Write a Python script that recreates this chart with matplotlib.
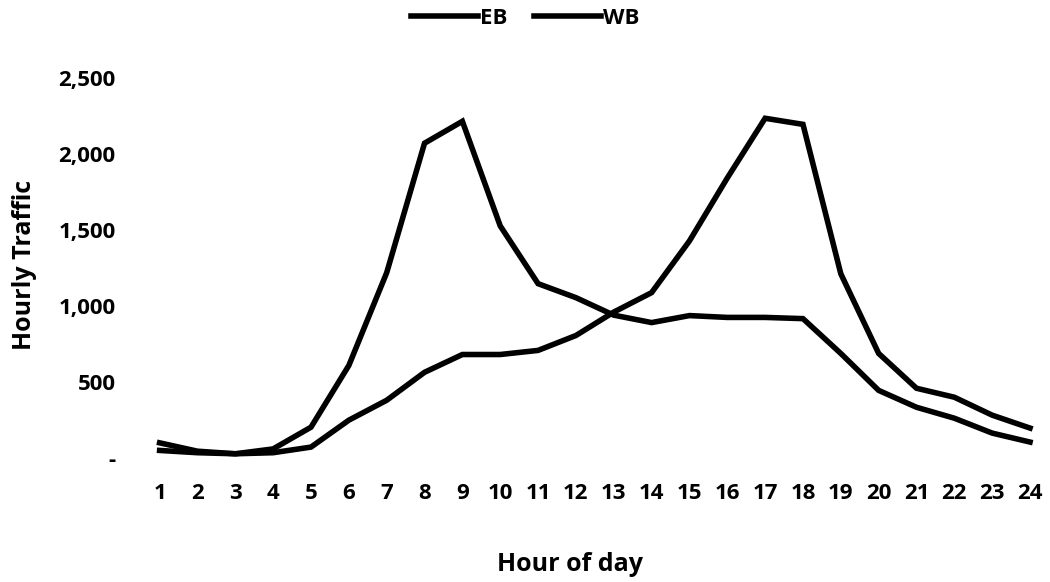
import matplotlib
matplotlib.use("Agg")
import matplotlib.pyplot as plt
from matplotlib.ticker import FuncFormatter

hours = list(range(1, 25))
eb = [50, 35, 28, 60, 203, 609, 1219, 2071, 2215, 1527, 1147, 1055, 940, 891, 937, 925, 925, 917, 688, 445, 334, 262, 164, 105]
wb = [100, 45, 28, 35, 72, 249, 380, 564, 681, 681, 708, 806, 960, 1088, 1428, 1842, 2235, 2195, 1212, 688, 459, 400, 282, 197]
y_ticks = [0, 500, 1000, 1500, 2000, 2500]

plt.rcParams['font.family'] = ['Open Sans', 'DejaVu Sans']
plt.rcParams['font.weight'] = 'bold'

fig = plt.figure(figsize=(10.5, 5.82), dpi=100)
ax = fig.add_axes([0.134, 0.213, 0.865, 0.653])

ax.plot(hours, eb, color='black', lw=4, label='EB', solid_joinstyle='miter')
ax.plot(hours, wb, color='black', lw=4, label='WB', solid_joinstyle='miter')

ax.set_xlim(0.5, 24.5)
ax.set_ylim(0, 2500)
ax.set_xticks(hours)
ax.set_xticklabels([str(h) for h in hours])
ax.set_yticks(y_ticks)
ax.yaxis.set_major_formatter(FuncFormatter(lambda v, p: '-' if v == 0 else f'{int(v):,}'))
for s in ax.spines.values():
    s.set_visible(False)
ax.tick_params(axis='both', length=0, labelsize=16)
ax.tick_params(axis='x', pad=18)
ax.tick_params(axis='y', pad=18)
for t in ax.get_xticklabels() + ax.get_yticklabels():
    t.set_fontweight('bold')

fig.text(0.543, 0.03, 'Hour of day', ha='center', va='center', fontsize=18, fontweight='bold')
fig.text(0.023, 0.545, 'Hourly Traffic', ha='center', va='center', rotation=90, fontsize=18, fontweight='bold')

fig.legend(loc='center', bbox_to_anchor=(0.5, 0.968), ncol=2, frameon=False,
           prop={'size': 16, 'weight': 'bold'}, handlelength=3.0, handletextpad=0.1,
           columnspacing=1.2)

fig.savefig('out.png', dpi=100, facecolor='white')
